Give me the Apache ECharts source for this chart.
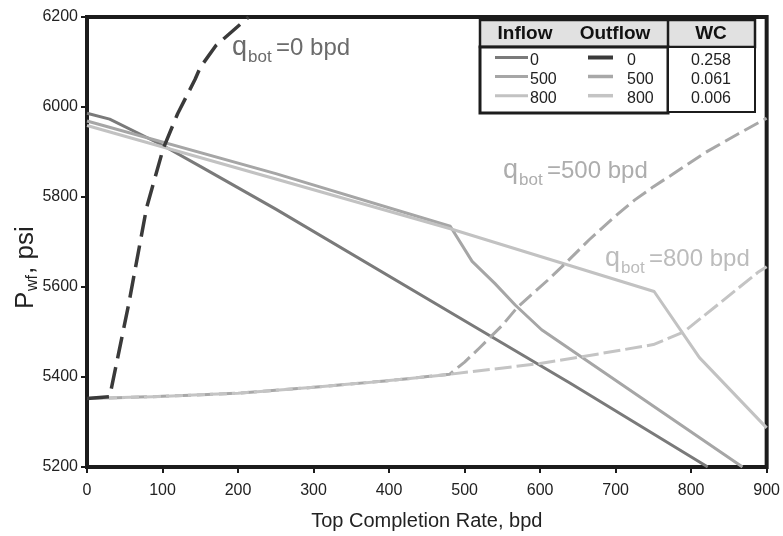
<!DOCTYPE html>
<html><head><meta charset="utf-8">
<script src="https://cdn.jsdelivr.net/npm/echarts@6/dist/echarts.min.js"></script>
<style>html,body{margin:0;padding:0;background:#fff}#c{width:783px;height:536px}</style>
</head><body><div id="c"></div>
<script>
// ---- data (x = top completion rate, bpd ; y = Pwf, psi) ----
const inflow0   = [[0,5986],[30,5973],[100,5915],[150,5868],[250,5773],[510,5515],[640,5386],[822,5200]];
const inflow500 = [[0,5969],[250,5852],[481,5735],[510,5657],[540,5608],[567,5560],[602,5505],[868,5200]];
const inflow800 = [[0,5959],[250,5840],[480,5730],[751,5590],[811,5443],[900,5287]];
const outflow0   = [[0,5352],[30,5356],[55,5560],[79,5777],[101,5908],[120,5985],[143,6061],[150,6088],[171,6137],[214,6200]];
const outflow500 = [[0,5352],[100,5357],[200,5364],[300,5377],[400,5392],[480,5406],[500,5433],[520,5465],[550,5515],[570,5555],[610,5615],[635,5655],[665,5705],[700,5758],[725,5793],[750,5823],[775,5850],[818,5898],[862,5940],[900,5975]];
const outflow800 = [[0,5352],[100,5357],[200,5364],[300,5377],[400,5392],[480,5406],[600,5430],[680,5452],[750,5472],[790,5500],[840,5567],[888,5632],[900,5645]];
const rates = ['0','500','800'];
const waterCut = ['0.258','0.061','0.006'];
const xRange = [0, 900, 100];
const yRange = [5200, 6200, 200];

// ---- styles ----
const C = {
  in0:'#7a7a7a', in500:'#a6a6a6', in800:'#c2c2c2',
  out0:'#3a3a3a', out500:'#a8a8a8', out800:'#c4c4c4',
  frame:'#1c1c1c', text:'#222'
};
const SANS = '"Liberation Sans",Arial,sans-serif';

function txt(x, base, str, size, color, align, weight) {
  return {type:'text', x:x, y: base - 0.3465*size, z:100,
    style:{text:str, fill:color, font:(weight||'normal')+' '+size+'px '+SANS,
      align:align||'left', verticalAlign:'middle'}};
}
function qLabel(x0, base, rate, color) {
  return [
    txt(x0, base, 'q', 27, color),
    txt(x0+16, base+6, 'bot', 17, color),
    txt(x0+44, base, '=' + rate + ' bpd', 24, color)
  ];
}

const legendGraphics = [];
legendGraphics.push({type:'rect', z:90, shape:{x:480,y:20,width:275,height:27}, style:{fill:'#e1e1e1', stroke:C.frame, lineWidth:2.5}});
legendGraphics.push({type:'rect', z:91, shape:{x:480,y:47,width:188,height:66}, style:{fill:'#fff', stroke:C.frame, lineWidth:3}});
legendGraphics.push({type:'rect', z:91, shape:{x:668,y:47,width:87,height:65}, style:{fill:'#fff', stroke:C.frame, lineWidth:2}});
legendGraphics.push({type:'line', z:92, shape:{x1:668,y1:20,x2:668,y2:47}, style:{stroke:C.frame, lineWidth:2.5}});
legendGraphics.push({type:'text', x:525, y:33.5, z:100, style:{text:'Inflow', font:'bold 19px '+SANS, fill:'#111', align:'center', verticalAlign:'middle'}});
legendGraphics.push({type:'text', x:615, y:33.5, z:100, style:{text:'Outflow', font:'bold 19px '+SANS, fill:'#111', align:'center', verticalAlign:'middle'}});
legendGraphics.push({type:'text', x:711, y:33.5, z:100, style:{text:'WC', font:'bold 19px '+SANS, fill:'#111', align:'center', verticalAlign:'middle'}});
const inCols = [C.in0, C.in500, C.in800];
const outCols = [C.out0, C.out500, C.out800];
const rowY = [60.5, 79.5, 98.7];
rates.forEach((r,i)=>{
  const ly = rowY[i]-3;
  legendGraphics.push({type:'line', z:100, shape:{x1:495,y1:ly,x2:528,y2:ly}, style:{stroke:inCols[i], lineWidth:3}});
  legendGraphics.push({type:'line', z:100, shape:{x1:588,y1:ly,x2:613,y2:ly}, style:{stroke:outCols[i], lineWidth:i===0?4:3.5}});
  legendGraphics.push({type:'text', x:530, y:rowY[i], z:100, style:{text:r, font:'16px '+SANS, fill:C.text, align:'left', verticalAlign:'middle'}});
  legendGraphics.push({type:'text', x:627, y:rowY[i], z:100, style:{text:r, font:'16px '+SANS, fill:C.text, align:'left', verticalAlign:'middle'}});
  legendGraphics.push({type:'text', x:711, y:rowY[i], z:100, style:{text:waterCut[i], font:'16px '+SANS, fill:C.text, align:'center', verticalAlign:'middle'}});
});

const annot = [].concat(
  qLabel(232, 57, rates[0], '#6b6b6b'),
  qLabel(503, 180, rates[1], '#adadad'),
  qLabel(605, 268, rates[2], '#bcbcbc')
);

// y-axis title, rotated group: local x runs up the screen, local y runs right
function ltxt(lx, ly, str, size) {
  return {type:'text', x:lx, y:ly - 0.3465*size,
    style:{text:str, fill:C.text, font:size+'px '+SANS, align:'left', verticalAlign:'middle'}};
}
const yTitle = {type:'group', x:35, y:309, rotation:Math.PI/2, z:100,
  children:[ ltxt(0, 0, 'P', 26), ltxt(18, 3, 'wf', 16), ltxt(35, 0, ', psi', 26) ]};

function lineSeries(name, data, color, width, dash, z, offset) {
  return {name:name, type:'line', data:data, showSymbol:false, symbol:'none', smooth:false,
    clip:true, z:z, animation:false,
    lineStyle:{color:color, width:width, type:dash||'solid', dashOffset:offset||0, cap:'butt', join:'round'}};
}

const chart = echarts.init(document.getElementById('c'), null, {renderer:'canvas'});
chart.setOption({
  animation:false,
  backgroundColor:'#fff',
  grid:{left:87, right:13, top:17, bottom:60, show:true, borderWidth:4, borderColor:C.frame, backgroundColor:'transparent'},
  xAxis:{type:'value', min:xRange[0], max:xRange[1], interval:xRange[2],
    name:'Top Completion Rate, bpd', nameLocation:'middle', nameGap:44,
    nameTextStyle:{fontFamily:SANS, fontSize:20, color:C.text},
    axisLine:{show:false}, splitLine:{show:false},
    axisTick:{show:true, length:6, lineStyle:{color:C.frame, width:2}},
    axisLabel:{fontFamily:SANS, fontSize:16, color:C.text, margin:16, formatter:v=>String(v)}},
  yAxis:{type:'value', min:yRange[0], max:yRange[1], interval:yRange[2],
    axisLine:{show:false}, splitLine:{show:false},
    axisTick:{show:true, length:6, lineStyle:{color:C.frame, width:2}},
    axisLabel:{fontFamily:SANS, fontSize:16, color:C.text, margin:9, formatter:v=>String(v)}},
  series:[
    lineSeries('Inflow 0', inflow0, C.in0, 3, null, 2),
    lineSeries('Inflow 500', inflow500, C.in500, 3, null, 2),
    lineSeries('Inflow 800', inflow800, C.in800, 3, null, 2),
    lineSeries('Outflow 500', outflow500, C.out500, 3, [16,6], 3, 0),
    lineSeries('Outflow 800', outflow800, C.out800, 3, [17,5], 4, 9),
    lineSeries('Outflow 0', outflow0, C.out0, 3.5, [22,9], 5)
  ],
  graphic:[].concat(legendGraphics, annot, [yTitle])
});
</script></body></html>
